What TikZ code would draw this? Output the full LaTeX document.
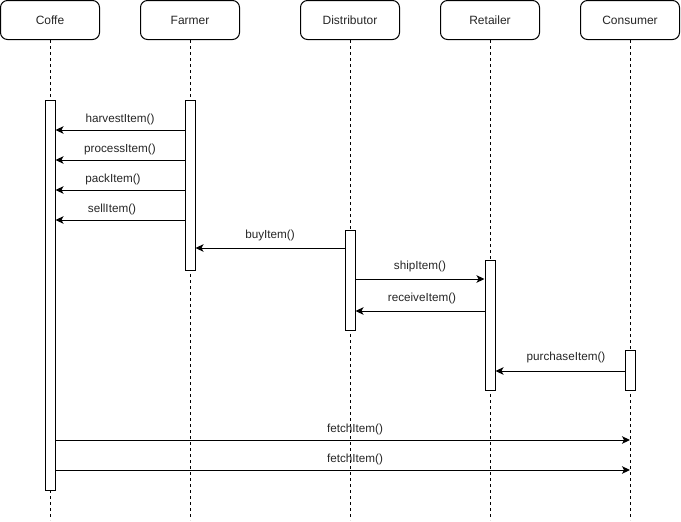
\documentclass[tikz,border=0pt]{standalone}
\usepackage{fontspec}
\setmainfont{Liberation Sans}
\usetikzlibrary{arrows.meta}
\begin{document}
\begin{tikzpicture}[x=1pt,y=-1pt,
  actor/.style={draw=black,line width=1pt,rounded corners=7pt,fill=white,
    minimum width=99pt,minimum height=39pt,inner sep=0pt,
    font=\fontsize{12pt}{14pt}\selectfont,text=black!85},
  lifeline/.style={line width=1pt,dash pattern=on 3pt off 3pt},
  activation/.style={draw=black,line width=1pt,fill=white,minimum width=10pt,
    inner sep=0pt,anchor=north},
  msg/.style={line width=1pt,-{Stealth[length=8pt,width=7.5pt,inset=2pt]}},
  lbl/.style={font=\fontsize{11.7pt}{13pt}\selectfont,text=black!85,inner sep=0pt}]
  % canvas
  \fill[white] (0,0) rectangle (681,522);
  \useasboundingbox (0,0) rectangle (681,522);

  % participants
  \node[actor] (coffe) at (50,20) {Coffe};
  \node[actor] (farmer) at (190,20) {Farmer};
  \node[actor] (distributor) at (350,20) {Distributor};
  \node[actor] (retailer) at (490,20) {Retailer};
  \node[actor] (consumer) at (630,20) {Consumer};

  % lifelines
  \coordinate (coffeEnd) at (50,520);
  \coordinate (farmerEnd) at (190,520);
  \coordinate (distributorEnd) at (350,520);
  \coordinate (retailerEnd) at (490,520);
  \coordinate (consumerEnd) at (630,520);
  \foreach \p in {coffe,farmer,distributor,retailer,consumer}
    \draw[lifeline] (\p.south) -- (\p End);

  % activation bars
  \node[activation,minimum height=390pt] (coffeAct) at (50,100) {};
  \node[activation,minimum height=170pt] (farmerAct) at (190,100) {};
  \node[activation,minimum height=100pt] (distAct) at (350,230) {};
  \node[activation,minimum height=130pt] (retAct) at (490,260) {};
  \node[activation,minimum height=40pt] (consAct) at (630,350) {};

  % messages
  \draw[msg] (farmerAct.west |- 0,130) -- (coffeAct.east |- 0,130);
  \node[lbl] (m1) at (120,119) {harvestItem()};
  \draw[msg] (farmerAct.west |- 0,160) -- (coffeAct.east |- 0,160);
  \node[lbl] (m2) at (120,149) {processItem()};
  \draw[msg] (farmerAct.west |- 0,190) -- (coffeAct.east |- 0,190);
  \node[lbl] (m3) at (113,179) {packItem()};
  \draw[msg] (farmerAct.west |- 0,220) -- (coffeAct.east |- 0,220);
  \node[lbl] (m4) at (112,209) {sellItem()};
  \draw[msg] (distAct.west |- 0,248) -- (farmerAct.east |- 0,248);
  \node[lbl] (m5) at (270,235) {buyItem()};
  \draw[msg] (distAct.east |- 0,279) -- (retAct.west |- 0,279);
  \node[lbl] (m6) at (420,266) {shipItem()};
  \draw[msg] (retAct.west |- 0,311) -- (distAct.east |- 0,311);
  \node[lbl] (m7) at (422,298) {receiveItem()};
  \draw[msg] (consAct.west |- 0,371) -- (retAct.east |- 0,371);
  \node[lbl] (m8) at (566,357) {purchaseItem()};
  \draw[msg] (coffeAct.east |- 0,440) -- (consumer.south |- 0,440);
  \node[lbl] (m9) at (355,429) {fetchItem()};
  \draw[msg] (coffeAct.east |- 0,470) -- (consumer.south |- 0,470);
  \node[lbl] (m10) at (355,459) {fetchItem()};
\end{tikzpicture}
\end{document}
